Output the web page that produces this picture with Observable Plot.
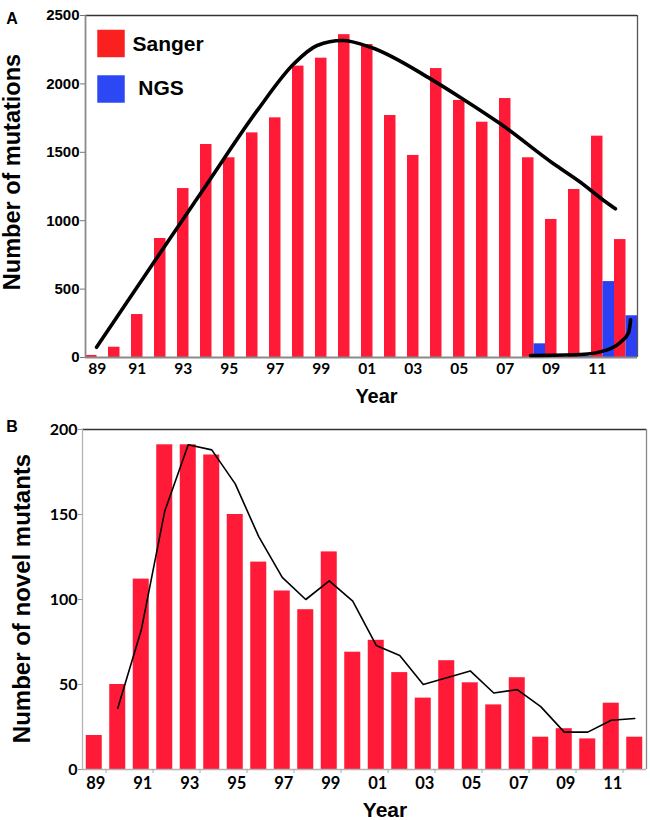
<!DOCTYPE html>
<html>
<head>
<meta charset="utf-8">
<script src="https://cdn.jsdelivr.net/npm/d3@7"></script>
<script src="https://cdn.jsdelivr.net/npm/@observablehq/plot@0.6"></script>
<style>
  body { margin: 0; background: #fff; }
  #wrap { position: relative; width: 650px; height: 820px; overflow: hidden; }
  #panelA, #panelB { position: absolute; left: 0; }
  #panelA { top: 0; }
  #panelB { top: 410px; }
</style>
</head>
<body>
<div id="wrap"><div id="panelA"></div><div id="panelB"></div></div>
<script>
// ---------- data ----------
const years = [1989,1990,1991,1992,1993,1994,1995,1996,1997,1998,1999,2000,2001,2002,2003,2004,2005,2006,2007,2008,2009,2010,2011,2012];
const sangerMutations = [15,75,314,870,1235,1557,1460,1642,1752,2130,2188,2360,2288,1769,1477,2112,1879,1720,1893,1460,1009,1228,1618,862];
const ngsMutations    = [0,0,0,0,0,0,0,0,0,0,0,0,0,0,0,0,0,0,0,100,0,8,555,305];
const novelMutants    = [20,50,112,191,191,185,150,122,105,94,128,69,76,57,42,64,51,38,54,19,24,18,39,19];

// trend curve (panel A, Sanger)
const trendSangerYear  = [1988.98,1991.62,1993.79,1995.97,1997.56,1998.57,1999.66,2000.89,2003.5,2004.8,2006.54,2008.85,2010.02,2011.03,2011.54];
const trendSangerValue = [75,733,1270,1806,2147,2281,2317,2268,2037,1901,1708,1416,1281,1148,1087];
// trend curve (panel A, NGS)
const trendNgsYear  = [2007.85,2010.02,2011.18,2011.76,2012.12,2012.2];
const trendNgsValue = [15,22,56,112,185,276];
// moving-average line (panel B)
const avgYear  = [1990,1991,1992,1993,1994,1995,1996,1997,1998,1999,2000,2001,2002,2003,2004,2005,2006,2007,2008,2009,2010,2011,2012];
const avgValue = [36,82,152,191,188,168,137,113,100,111,99,73,67,50,54,58,45,47,37,22,22,29,30];

// axis ticks / labels
const xLabelYears = [1989,1991,1993,1995,1997,1999,2001,2003,2005,2007,2009,2011];
const xLabels     = ["89","91","93","95","97","99","01","03","05","07","09","11"];
const yTicksA = [0,500,1000,1500,2000,2500];
const yTicksB = [0,50,100,150,200];
const xTickMarksB = [1989.5,1991.5,1993.5,1995.5,1997.5,1999.5,2001.5,2003.5,2005.5,2007.5,2009.5,2011.5];

const legendLabels = ["Sanger", " NGS"];

// ---------- tables ----------
const RED = "#ff1a38", BLUE = "#2b40f4";
const rowsA = years.map((y, i) => ({year: y, sanger: sangerMutations[i], ngs: ngsMutations[i]}));
const rowsB = years.map((y, i) => ({year: y, count: novelMutants[i]}));
const trendA = trendSangerYear.map((y, i) => ({year: y, value: trendSangerValue[i]}));
const trendN = trendNgsYear.map((y, i) => ({year: y, value: trendNgsValue[i]}));
const avgB = avgYear.map((y, i) => ({year: y, value: avgValue[i]}));
const labRows = xLabelYears.map((y, i) => ({year: y, label: xLabels[i]}));

const baseStyle = {fontFamily: "'Liberation Sans', Arial, sans-serif", fontWeight: "bold", color: "black", background: "white"};
const fmt = d => String(d);

// ---------- panel A ----------
const panelA = Plot.plot({
  width: 650, height: 410,
  marginTop: 15, marginRight: 13, marginBottom: 53, marginLeft: 85,
  style: baseStyle,
  x: {domain: [1988.5, 2012.5], axis: null, label: null},
  y: {domain: [0, 2500], axis: null, label: null},
  marks: [
    Plot.rect(rowsA, {x1: d => d.year - 0.5, x2: d => d.year, y1: 0, y2: "sanger", fill: RED}),
    Plot.rect(rowsA, {x1: d => d.year, x2: d => d.year + 0.5, y1: 0, y2: "ngs", fill: BLUE}),
    Plot.ruleY([2500], {stroke: "#333", strokeWidth: 1.3}),
    Plot.ruleX([2012.5], {stroke: "#555", strokeWidth: 1.3}),
    Plot.ruleX([1988.5], {stroke: "#8a8a8a", strokeWidth: 1.8}),
    Plot.ruleY([0], {stroke: "#8a8a8a", strokeWidth: 1.8}),
    Plot.line(trendA, {x: "year", y: "value", curve: "monotone-x", stroke: "black", strokeWidth: 3.6}),
    Plot.line(trendN, {x: "year", y: "value", curve: "monotone-x", stroke: "black", strokeWidth: 3.6}),
    Plot.axisY(yTicksA, {tickSize: 5, tickPadding: 1, tickFormat: fmt, stroke: "#777", fill: "black", fontSize: 15, fontWeight: "bold", label: null}),
    Plot.text(labRows.slice(0, 1), {x: d => d.year - 0.25, text: "label", frameAnchor: "bottom", lineAnchor: "top", dy: 5, dx: 6, fontSize: 15.5, fontFamily: "Lato, sans-serif", fontWeight: "bold"}),
    Plot.text(labRows.slice(1), {x: d => d.year - 0.25, text: "label", frameAnchor: "bottom", lineAnchor: "top", dy: 5, fontSize: 15.5, fontFamily: "Lato, sans-serif", fontWeight: "bold"}),
    Plot.text(["Year"], {text: d => d, frameAnchor: "bottom", textAnchor: "middle", lineAnchor: "middle", dx: 15, dy: 38.6, fontSize: 20}),
    Plot.text(["Number of mutations"], {text: d => d, frameAnchor: "left", textAnchor: "middle", lineAnchor: "middle", rotate: -90, dx: -73, dy: -14.5, fontSize: 23.5}),
    Plot.text(["A"], {text: d => d, frameAnchor: "top-left", textAnchor: "middle", lineAnchor: "middle", dx: -73.5, dy: 3, fontSize: 16}),
    // legend
    Plot.dot([legendLabels[0]], {frameAnchor: "top-left", dx: 25.5, dy: 28, r: 15.5, symbol: "square", fill: "#fa2020"}),
    Plot.dot([legendLabels[1]], {frameAnchor: "top-left", dx: 25.5, dy: 73.5, r: 15.5, symbol: "square", fill: "#2c48f5"}),
    Plot.text([legendLabels[0]], {text: d => d, frameAnchor: "top-left", textAnchor: "start", lineAnchor: "middle", dx: 47, dy: 28.3, fontSize: 21}),
    Plot.text([legendLabels[1]], {text: d => d, frameAnchor: "top-left", textAnchor: "start", lineAnchor: "middle", dx: 47, dy: 72.6, fontSize: 21})
  ]
});
document.getElementById("panelA").appendChild(panelA);

// ---------- panel B ----------
const panelB = Plot.plot({
  width: 650, height: 410,
  marginTop: 19, marginRight: 4, marginBottom: 51, marginLeft: 82,
  style: baseStyle,
  x: {domain: [1988.5, 2012.5], axis: null, label: null},
  y: {domain: [0, 200], axis: null, label: null},
  marks: [
    Plot.rect(rowsB, {x1: d => d.year - 0.5, x2: d => d.year + 0.5, y1: 0, y2: "count", insetLeft: 3.75, insetRight: 3.75, fill: RED}),
    Plot.ruleY([200], {stroke: "#333", strokeWidth: 1.3}),
    Plot.ruleX([2012.5], {stroke: "#888", strokeWidth: 1.3}),
    Plot.ruleX([1988.5], {stroke: "#b4b4b4", strokeWidth: 1.3}),
    Plot.ruleY([0], {stroke: "#b4b4b4", strokeWidth: 1.3}),
    Plot.line(avgB, {x: "year", y: "value", stroke: "black", strokeWidth: 1.6}),
    Plot.axisX(xTickMarksB, {tickSize: 4, stroke: "#aaa", tickFormat: () => "", label: null}),
    Plot.axisY(yTicksB, {tickSize: 4, tickPadding: 1, tickFormat: fmt, stroke: "#999", fill: "black", fontSize: 16, fontFamily: "Lato, sans-serif", fontWeight: "bold", label: null}),
    Plot.text(labRows, {x: "year", text: "label", frameAnchor: "bottom", lineAnchor: "top", dy: 8, dx: 1.5, fontSize: 16.5, fontFamily: "Lato, sans-serif", fontWeight: "bold"}),
    Plot.text(["Year"], {text: d => d, frameAnchor: "bottom", textAnchor: "middle", lineAnchor: "middle", dx: 20.5, dy: 40.5, fontSize: 21}),
    Plot.text(["Number of novel mutants"], {text: d => d, frameAnchor: "left", textAnchor: "middle", lineAnchor: "middle", rotate: -90, dx: -60, dy: -1, fontSize: 24}),
    Plot.text(["B"], {text: d => d, frameAnchor: "top-left", textAnchor: "middle", lineAnchor: "middle", dx: -70.5, dy: -3, fontSize: 16})
  ]
});
document.getElementById("panelB").appendChild(panelB);
</script>
</body>
</html>
